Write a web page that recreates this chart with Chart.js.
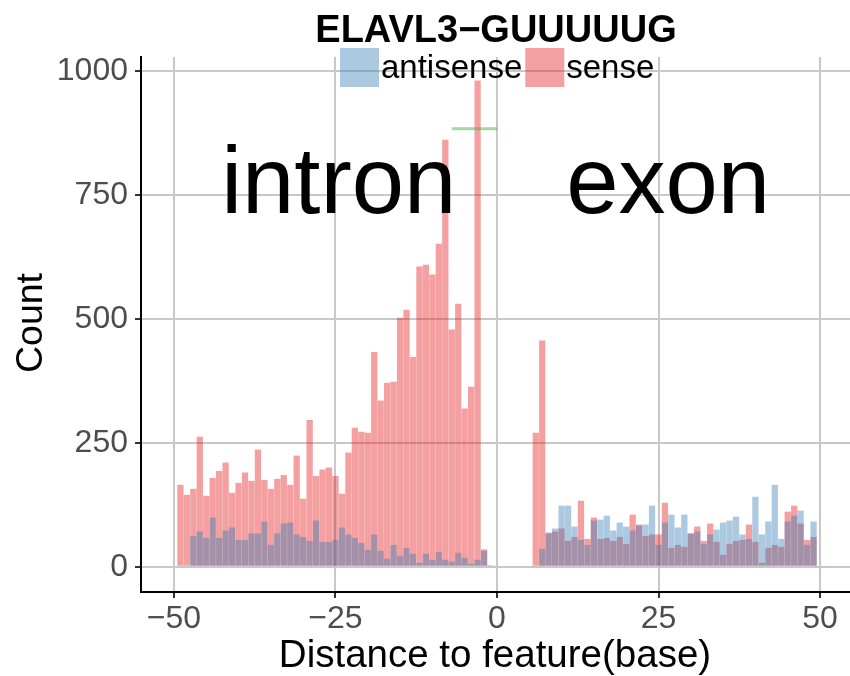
<!DOCTYPE html>
<html><head><meta charset="utf-8">
<script src="https://cdn.jsdelivr.net/npm/chart.js@4/dist/chart.umd.min.js"></script>
<style>html,body{margin:0;padding:0;background:#fff}#wrap{width:850px;height:676px;position:relative}</style>
</head><body><div id="wrap"><canvas id="c" width="850" height="676"></canvas></div>
<script>
const chartTitle = 'ELAVL3−GUUUUUG';
const xAxisTitle = 'Distance to feature(base)';
const yAxisTitle = 'Count';
const seriesNames = ['antisense', 'sense'];
const positions = [-49,-48,-47,-46,-45,-44,-43,-42,-41,-40,-39,-38,-37,-36,-35,-34,-33,-32,-31,-30,
  -29,-28,-27,-26,-25,-24,-23,-22,-21,-20,-19,-18,-17,-16,-15,-14,-13,-12,-11,-10,
  -9,-8,-7,-6,-5,-4,-3,-2,-1,0,1,2,3,4,5,6,7,8,9,10,
  11,12,13,14,15,16,17,18,19,20,21,22,23,24,25,26,27,28,29,30,
  31,32,33,34,35,36,37,38,39,40,41,42,43,44,45,46,47,48,49];
const senseCounts = [165,145,157,262,143,179,193,210,149,169,190,173,236,175,157,177,185,165,224,137,
  296,183,196,200,183,147,230,280,272,270,433,335,371,373,502,518,423,605,609,589,
  651,861,478,530,319,363,980,35,3,2,0,0,0,0,2,270,456,67,71,77,
  52,60,133,56,99,56,58,52,60,46,105,85,62,65,65,129,38,44,40,67,
  81,52,87,50,24,46,52,54,85,50,8,38,44,40,111,123,87,54,60];
const antisenseCounts = [0,0,62,71,58,99,58,73,79,54,54,67,67,91,44,67,87,89,65,60,
  52,93,50,50,54,79,65,58,48,34,65,32,16,44,22,38,26,8,26,14,
  30,14,10,28,18,6,14,32,2,2,0,0,0,0,0,0,36,69,77,123,
  123,81,54,44,93,95,103,73,89,81,73,83,85,123,44,89,105,79,105,67,
  71,46,65,75,89,93,101,65,56,141,65,91,165,56,91,103,113,44,91];
const xTickValues = [-50, -25, 0, 25, 50];
const xTickLabels = ['−50', '−25', '0', '25', '50'];
const yTickValues = [0, 250, 500, 750, 1000];
const yTickLabels = ['0', '250', '500', '750', '1000'];
const regionLabels = ['intron', 'exon'];
const regionX = [-24.5, 26.5];
const regionY = [714, 714];
const markerX = [-7, 0];
const markerY = [883, 883];

const FONT = '"Liberation Sans", Arial, Helvetica, sans-serif';
const colAnti = 'rgba(55,126,184,0.42)';
const colSense = 'rgba(228,26,28,0.42)';

const annot = {
  id: 'annot',
  afterDraw(chart) {
    const ctx = chart.ctx, xs = chart.scales.x, ys = chart.scales.y;
    ctx.save();
    ctx.fillStyle = '#000';
    ctx.textBaseline = 'alphabetic';
    ctx.textAlign = 'center';
    ctx.font = '94px ' + FONT;
    regionLabels.forEach((t, i) => ctx.fillText(t, xs.getPixelForValue(regionX[i]), ys.getPixelForValue(regionY[i])));
    ctx.font = 'bold 38px ' + FONT;
    ctx.fillText(chartTitle, 496, 42);
    ctx.font = '38.5px ' + FONT;
    ctx.fillText(xAxisTitle, 495, 667);
    ctx.font = '37.5px ' + FONT;
    ctx.save();
    ctx.translate(41.5, 323);
    ctx.rotate(-Math.PI / 2);
    ctx.fillText(yAxisTitle, 0, 0);
    ctx.restore();
    ctx.textAlign = 'left';
    ctx.font = '33px ' + FONT;
    let lx = 340;
    const cols = [colAnti, colSense];
    seriesNames.forEach((n, i) => {
      ctx.fillStyle = cols[i];
      ctx.fillRect(lx, 48, 39, 39);
      lx += 41;
      ctx.fillStyle = '#000';
      ctx.fillText(n, lx, 78);
      lx += ctx.measureText(n).width + 3;
    });
    ctx.restore();
  }
};

new Chart(document.getElementById('c'), {
  type: 'bar',
  data: {
    datasets: [
      { type: 'line', label: 'marker', data: markerX.map((x, i) => ({x: x, y: markerY[i]})),
        borderColor: 'rgba(77,175,74,0.5)', borderWidth: 3, pointRadius: 0, order: -1 },
      { label: seriesNames[0], data: positions.map((x, i) => ({x: x, y: antisenseCounts[i]})),
        backgroundColor: colAnti, grouped: false, barPercentage: 0.97, categoryPercentage: 1, order: 0 },
      { label: seriesNames[1], data: positions.map((x, i) => ({x: x, y: senseCounts[i]})),
        backgroundColor: colSense, grouped: false, barPercentage: 0.97, categoryPercentage: 1, order: 1 }
    ]
  },
  options: {
    responsive: false,
    animation: false,
    devicePixelRatio: 1,
    layout: { padding: { top: 57, left: 0, right: 0, bottom: 0 } },
    plugins: { legend: { display: false }, title: { display: false }, tooltip: { enabled: false } },
    scales: {
      x: {
        type: 'linear', min: -55.1, max: 54.64, offset: false,
        afterBuildTicks: s => { s.ticks = xTickValues.map(v => ({value: v})); },
        afterFit: s => { s.height = 84; },
        ticks: { callback: v => xTickLabels[xTickValues.indexOf(v)], color: '#4d4d4d',
                 font: { family: FONT, size: 32 }, padding: 2, maxRotation: 0, autoSkip: false },
        grid: { color: '#c8c8c8', lineWidth: 2, tickColor: '#333', tickLength: 6, offset: false },
        border: { color: '#000', width: 2 }
      },
      y: {
        type: 'linear', min: -51, max: 1027.6,
        afterBuildTicks: s => { s.ticks = yTickValues.map(v => ({value: v})); },
        afterFit: s => { s.width = 141; },
        ticks: { callback: v => yTickLabels[yTickValues.indexOf(v)], color: '#4d4d4d',
                 font: { family: FONT, size: 32 }, padding: 7 },
        grid: { color: '#c8c8c8', lineWidth: 2, tickColor: '#333', tickLength: 6 },
        border: { color: '#000', width: 2 }
      }
    }
  },
  plugins: [annot]
});
</script>
</body></html>
